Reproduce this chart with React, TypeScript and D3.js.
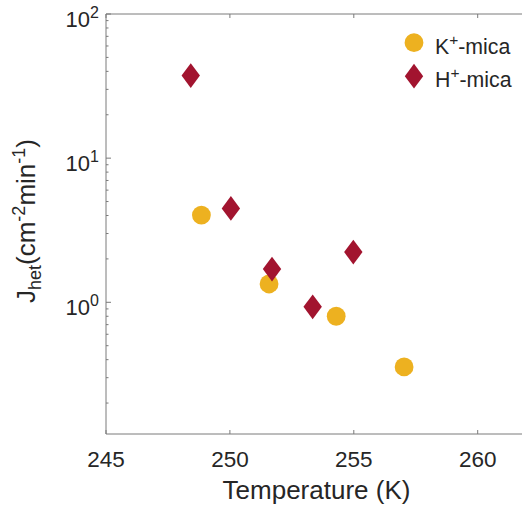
import React from "react";
import * as d3 from "d3";

const kTemps = [248.85, 251.58, 254.29, 257.03];
const kJ = [4.03, 1.34, 0.80, 0.356];
const hTemps = [248.42, 250.04, 251.70, 253.34, 254.98];
const hJ = [37.4, 4.48, 1.70, 0.93, 2.23];
const xTicks = [245, 250, 255, 260];
const yDecades = [0, 1, 2];
const seriesNames = ["K", "H"];

const W = 522, H = 510;
const left = 106, top = 14, bottom = 434;
const xScale = d3.scaleLinear().domain([245, 262]).range([left, left + 17 * 24.78]);
const yScale = d3.scaleLog().domain([0.122, 100]).range([bottom, top]);
const right = xScale(262);

const KCOL = "#EDB120";
const HCOL = "#A2142F";
const AX = "#7a7a7a";
const TXT = "#262626";
const FONT = "'Liberation Sans', Arial, Helvetica, sans-serif";

function diamond(cx: number, cy: number) {
  const p = d3.path();
  p.moveTo(cx, cy - 12.4);
  p.lineTo(cx + 9.2, cy);
  p.lineTo(cx, cy + 12.4);
  p.lineTo(cx - 9.2, cy);
  p.closePath();
  return p.toString();
}

export default function App() {
  const minor: number[] = [];
  for (let e = -1; e < 2; e++) {
    for (let m = 2; m <= 9; m++) {
      const v = m * Math.pow(10, e);
      if (v >= 0.122 && v <= 100) minor.push(v);
    }
  }
  return (
    <svg width={W} height={H} style={{ position: "absolute", left: 0, top: 0, background: "#fff" }} fontFamily={FONT}>
      <rect x={0} y={0} width={W} height={H} fill="#fff" />
      {/* axes lines */}
      <line x1={left} y1={top} x2={right} y2={top} stroke={AX} strokeWidth={1} />
      <line x1={left} y1={bottom} x2={right} y2={bottom} stroke={AX} strokeWidth={1} />
      <line x1={left} y1={top} x2={left} y2={bottom} stroke={AX} strokeWidth={1} />
      {/* x ticks */}
      {xTicks.map((t) => (
        <g key={"xt" + t}>
          <line x1={xScale(t)} x2={xScale(t)} y1={bottom} y2={bottom - 4} stroke={AX} />
          <line x1={xScale(t)} x2={xScale(t)} y1={top} y2={top + 4} stroke={AX} />
          <text x={xScale(t)} y={467} textAnchor="middle" fontSize={22.5} fill={TXT}>{t}</text>
        </g>
      ))}
      {/* y ticks */}
      {yDecades.map((e) => {
        const y = yScale(Math.pow(10, e));
        return (
          <g key={"yt" + e}>
            <line x1={left} x2={left + 5} y1={y} y2={y} stroke={AX} />
            <text x={99} y={y + 12.5} textAnchor="end" fontSize={22} fill={TXT}>
              10<tspan fontSize={16} dy={-8.5}>{e}</tspan>
            </text>
          </g>
        );
      })}
      {minor.map((v, i) => (
        <line key={"mn" + i} x1={left} x2={left + 2.5} y1={yScale(v)} y2={yScale(v)} stroke={AX} />
      ))}
      {/* axis titles */}
      <text x={316.5} y={499} textAnchor="middle" fontSize={26} fill={TXT}>Temperature (K)</text>
      <text transform={`translate(35,${(top + bottom) / 2 - 3}) rotate(-90)`} textAnchor="middle" fontSize={26} fill={TXT}>
        J<tspan fontSize={18} dy={6}>het</tspan><tspan dy={-6}>(cm</tspan><tspan fontSize={18} dy={-10}>-2</tspan><tspan dy={10}>min</tspan><tspan fontSize={18} dy={-10}>-1</tspan><tspan dy={10}>)</tspan>
      </text>
      {/* data */}
      {kTemps.map((t, i) => (
        <circle key={"k" + i} cx={xScale(t)} cy={yScale(kJ[i])} r={9.4} fill={KCOL} />
      ))}
      {hTemps.map((t, i) => (
        <path key={"h" + i} d={diamond(xScale(t), yScale(hJ[i]))} fill={HCOL} />
      ))}
      {/* legend */}
      {seriesNames.map((s, i) => {
        const ly = 42.7 + i * 33.5;
        return (
          <g key={"lg" + s}>
            {s === "K" ? (
              <circle cx={414} cy={ly} r={9.4} fill={KCOL} />
            ) : (
              <path d={diamond(414, ly)} fill={HCOL} />
            )}
            <text x={435} y={ly + 11.2} fontSize={21.3} fill={TXT}>
              {s}<tspan fontSize={15.5} dy={-9}>+</tspan><tspan dy={9}>-mica</tspan>
            </text>
          </g>
        );
      })}
    </svg>
  );
}
